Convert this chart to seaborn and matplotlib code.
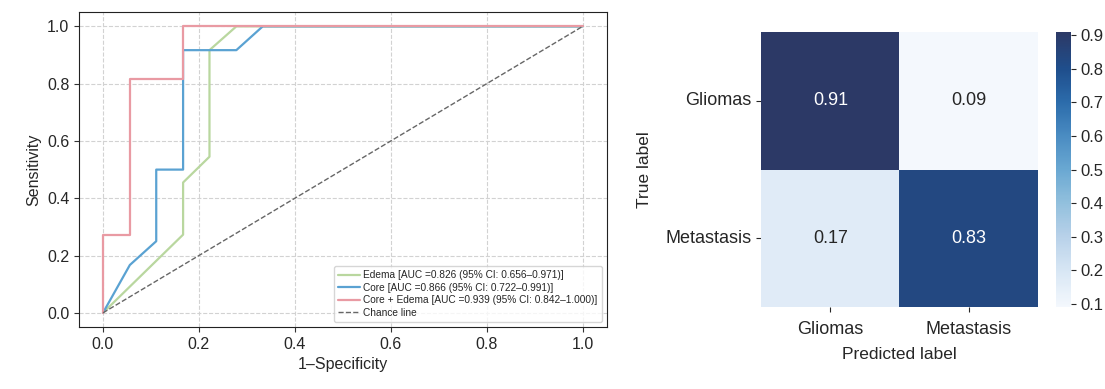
import numpy as np
import pandas as pd
import matplotlib
matplotlib.use("Agg")
import matplotlib.pyplot as plt
from matplotlib.colors import LinearSegmentedColormap
import seaborn as sns

# ROC curve points
edema_fpr = [0.0, 0.167, 0.167, 0.222, 0.222, 0.278, 1.0]
edema_tpr = [0.0, 0.273, 0.455, 0.545, 0.917, 1.0, 1.0]
core_fpr = [0.0, 0.056, 0.111, 0.111, 0.167, 0.167, 0.278, 0.333, 1.0]
core_tpr = [0.0, 0.167, 0.25, 0.5, 0.5, 0.917, 0.917, 1.0, 1.0]
combo_fpr = [0.0, 0.0, 0.056, 0.056, 0.167, 0.167, 1.0]
combo_tpr = [0.0, 0.273, 0.273, 0.818, 0.818, 1.0, 1.0]

roc_labels = [
    "Edema [AUC =0.826 (95% CI: 0.656\u20130.971)]",
    "Core [AUC =0.866 (95% CI: 0.722\u20130.991)]",
    "Core + Edema [AUC =0.939 (95% CI: 0.842\u20131.000)]",
]
roc_colors = ["#b9d79f", "#5aa2d2", "#e99aa3"]

# confusion matrix (normalised)
class_names = ["Gliomas", "Metastasis"]
cm_values = [[0.91, 0.09],
             [0.17, 0.83]]

# muted "Blues" look of the original
cm_cmap = LinearSegmentedColormap.from_list("muted_blues", [
    (0.0, "#f4f8fd"), (0.134, "#d7e6f4"), (0.256, "#b8d1e9"),
    (0.378, "#92c0dd"), (0.5, "#6aa8d2"), (0.622, "#4a8cc2"),
    (0.744, "#2c6cab"), (0.866, "#1f4e8c"), (1.0, "#2c3966")])

sns.set_style("ticks")
plt.rcParams["font.family"] = ["Liberation Sans", "DejaVu Sans"]

fig = plt.figure(figsize=(11.05, 3.89), dpi=100)
ax1 = fig.add_axes([0.0715, 0.159, 0.4775, 0.810])
ax2 = fig.add_axes([0.689, 0.210, 0.250, 0.708])
cax = fig.add_axes([0.956, 0.210, 0.013, 0.708])

# ---- ROC panel ----
curves = [(edema_fpr, edema_tpr), (core_fpr, core_tpr), (combo_fpr, combo_tpr)]
for (fpr, tpr), lab, col in zip(curves, roc_labels, roc_colors):
    df = pd.DataFrame({"fpr": fpr, "tpr": tpr})
    sns.lineplot(data=df, x="fpr", y="tpr", sort=False, estimator=None,
                 color=col, lw=1.6, label=lab, ax=ax1)
ax1.plot([0, 1], [0, 1], ls="--", color="#666666", lw=1.0, label="Chance line")
ax1.set_xlim(-0.05, 1.05)
ax1.set_ylim(-0.05, 1.05)
ax1.set_xticks(np.arange(0, 1.01, 0.2))
ax1.set_yticks(np.arange(0, 1.01, 0.2))
ax1.grid(True, ls="--", color="#d2d2d2", lw=0.8)
ax1.set_xlabel("1\u2013Specificity", fontsize=11.5)
ax1.set_ylabel("Sensitivity", fontsize=11.5)
ax1.tick_params(labelsize=11.5, color="#333333")
for sp in ax1.spines.values():
    sp.set_color("#222222")
leg = ax1.legend(loc="lower right", fontsize=7.3, handlelength=2.2,
                 handletextpad=0.3, borderpad=0.4, labelspacing=0.25,
                 frameon=True, fancybox=True)
leg.get_frame().set_edgecolor("#cccccc")

# ---- confusion matrix panel ----
cm_df = pd.DataFrame(cm_values, index=class_names, columns=class_names)
sns.heatmap(cm_df, annot=True, fmt=".2f", cmap=cm_cmap, ax=ax2, cbar_ax=cax,
            annot_kws={"fontsize": 13})
ax2.set_xlabel("Predicted label", fontsize=12.5, labelpad=7)
ax2.set_ylabel("True label", fontsize=12.5, labelpad=10)
ax2.tick_params(labelsize=13, rotation=0)
ax2.tick_params(axis="x", pad=6)
cax.tick_params(labelsize=12)
cax.set_yticks(np.arange(0.1, 0.91, 0.1))
cax.set_yticklabels([f"{v:.1f}" for v in np.arange(0.1, 0.91, 0.1)])

fig.savefig("out.png", dpi=100)
